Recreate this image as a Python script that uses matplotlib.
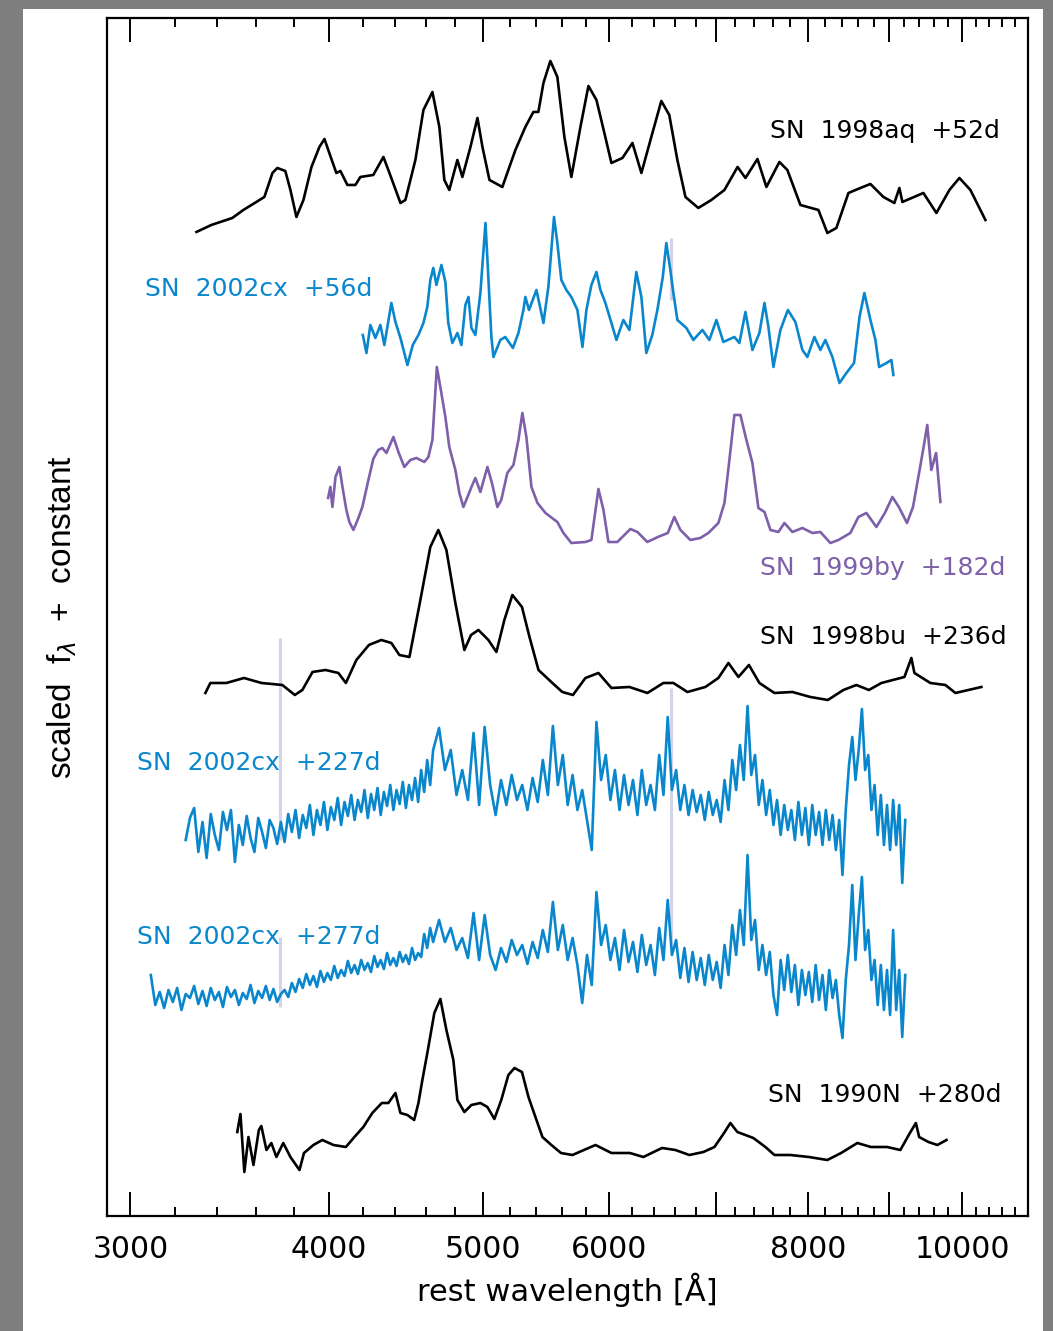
import matplotlib
matplotlib.use("Agg")
import matplotlib.pyplot as plt
from matplotlib.patches import Rectangle
from matplotlib.ticker import FixedLocator, FixedFormatter, NullFormatter

# ---- spectra (rest wavelength in A, scaled flux) ----

wave_98aq = [3301, 3373, 3477, 3533, 3600, 3642, 3685, 3711, 3754, 3782,
             3815, 3854, 3899, 3944, 3973, 4001, 4042, 4066, 4107, 4155,
             4185, 4264, 4327, 4365, 4435, 4467, 4532, 4585, 4645, 4692,
             4726, 4760, 4816, 4851, 4908, 4958, 4994, 5045, 5140, 5238,
             5314, 5376, 5415, 5455, 5510, 5566, 5623, 5680, 5755, 5822,
             5890, 5958, 6019, 6116, 6205, 6286, 6377, 6470, 6545, 6622,
             6700, 6826, 6956, 7089, 7225, 7308, 7436, 7533, 7676, 7765,
             7913, 8122, 8228, 8336, 8483, 8631, 8757, 8923, 9066, 9132,
             9172, 9455, 9635, 9818, 9961, 10121, 10343]
flux_98aq = [0.08, 0.15, 0.22, 0.30, 0.38, 0.43, 0.67, 0.72, 0.69, 0.50,
             0.23, 0.40, 0.73, 0.93, 1.01, 0.87, 0.67, 0.69, 0.55, 0.55,
             0.63, 0.65, 0.83, 0.67, 0.37, 0.40, 0.80, 1.30, 1.48, 1.13,
             0.60, 0.50, 0.80, 0.63, 0.93, 1.22, 0.93, 0.60, 0.53, 0.90,
             1.13, 1.28, 1.28, 1.57, 1.79, 1.63, 1.03, 0.63, 1.13, 1.54,
             1.40, 1.07, 0.77, 0.82, 0.97, 0.67, 1.03, 1.39, 1.25, 0.80,
             0.43, 0.32, 0.40, 0.50, 0.73, 0.62, 0.81, 0.53, 0.78, 0.70,
             0.35, 0.30, 0.07, 0.12, 0.47, 0.52, 0.56, 0.43, 0.37, 0.52,
             0.38, 0.47, 0.27, 0.50, 0.62, 0.50, 0.20]

wave_cx56 = [4200, 4222, 4246, 4277, 4308, 4333, 4377, 4403, 4435, 4480,
             4515, 4552, 4585, 4611, 4631, 4651, 4672, 4706, 4733, 4753,
             4781, 4816, 4844, 4872, 4894, 4915, 4943, 4979, 5016, 5034,
             5059, 5074, 5125, 5162, 5219, 5261, 5299, 5314, 5342, 5400,
             5455, 5494, 5539, 5566, 5598, 5639, 5680, 5730, 5772, 5805,
             5847, 5890, 5924, 5967, 6019, 6063, 6124, 6178, 6240, 6286,
             6331, 6386, 6433, 6484, 6517, 6555, 6584, 6622, 6709, 6777,
             6866, 6936, 7007, 7078, 7192, 7244, 7308, 7382, 7457, 7512,
             7555, 7610, 7687, 7771, 7856, 7936, 7993, 8075, 8145, 8204,
             8288, 8373, 8458, 8552, 8620, 8681, 8757, 8821, 8868, 8963,
             9027, 9053]
flux_cx56 = [0.55, 0.37, 0.65, 0.52, 0.65, 0.45, 0.87, 0.68, 0.52, 0.25,
             0.45, 0.55, 0.67, 0.83, 1.10, 1.22, 1.05, 1.25, 1.08, 0.67,
             0.47, 0.57, 0.45, 0.85, 0.93, 0.62, 0.55, 0.97, 1.67, 1.20,
             0.53, 0.33, 0.50, 0.53, 0.42, 0.57, 0.80, 0.93, 0.80, 1.00,
             0.67, 1.03, 1.73, 1.47, 1.10, 1.00, 0.93, 0.80, 0.43, 0.80,
             1.05, 1.18, 1.00, 0.87, 0.67, 0.50, 0.70, 0.60, 1.18, 0.93,
             0.37, 0.55, 0.80, 1.13, 1.47, 1.20, 0.97, 0.70, 0.62, 0.50,
             0.60, 0.50, 0.70, 0.48, 0.53, 0.47, 0.78, 0.40, 0.57, 0.87,
             0.63, 0.23, 0.60, 0.80, 0.68, 0.40, 0.33, 0.53, 0.40, 0.50,
             0.33, 0.07, 0.17, 0.27, 0.73, 0.97, 0.70, 0.50, 0.23, 0.27,
             0.30, 0.15]

wave_99by = [3994, 4007, 4019, 4037, 4060, 4078, 4101, 4119, 4143, 4173,
             4197, 4234, 4264, 4295, 4320, 4346, 4390, 4422, 4460, 4499,
             4539, 4591, 4618, 4645, 4675, 4702, 4733, 4760, 4802, 4830,
             4858, 4887, 4915, 4943, 4979, 5030, 5063, 5103, 5132, 5177,
             5223, 5261, 5291, 5322, 5361, 5408, 5471, 5566, 5615, 5680,
             5797, 5847, 5907, 5950, 5993, 6071, 6187, 6250, 6340, 6438,
             6531, 6593, 6651, 6748, 6846, 6926, 7027, 7089, 7140, 7192,
             7255, 7318, 7382, 7446, 7512, 7577, 7665, 7732, 7822, 7936,
             8052, 8145, 8264, 8361, 8507, 8606, 8706, 8833, 8942, 9040,
             9125, 9233, 9314, 9396, 9451, 9508, 9564, 9631, 9691]
flux_99by = [0.52, 0.63, 0.43, 0.73, 0.83, 0.63, 0.40, 0.28, 0.20, 0.32,
             0.43, 0.70, 0.91, 1.00, 1.02, 0.97, 1.13, 0.98, 0.83, 0.90,
             0.92, 0.88, 0.93, 1.10, 1.83, 1.60, 1.33, 1.03, 0.80, 0.57,
             0.43, 0.53, 0.63, 0.72, 0.58, 0.83, 0.67, 0.43, 0.50, 0.77,
             0.85, 1.10, 1.37, 1.13, 0.63, 0.47, 0.37, 0.28, 0.17, 0.07,
             0.08, 0.10, 0.61, 0.40, 0.08, 0.08, 0.21, 0.18, 0.08, 0.13,
             0.17, 0.33, 0.20, 0.10, 0.12, 0.17, 0.27, 0.47, 0.90, 1.35,
             1.35, 1.10, 0.87, 0.42, 0.38, 0.20, 0.18, 0.27, 0.18, 0.22,
             0.17, 0.18, 0.07, 0.10, 0.17, 0.33, 0.37, 0.23, 0.37, 0.53,
             0.43, 0.27, 0.43, 0.77, 1.00, 1.25, 0.80, 0.97, 0.48]

wave_98bu = [3344, 3368, 3447, 3536, 3627, 3738, 3806, 3848, 3905, 3979,
             4054, 4098, 4161, 4237, 4314, 4377, 4428, 4493, 4561, 4631,
             4685, 4740, 4802, 4865, 4912, 4965, 5037, 5096, 5155, 5215,
             5288, 5346, 5416, 5526, 5606, 5693, 5797, 5907, 6019, 6178,
             6341, 6489, 6584, 6719, 6896, 7027, 7130, 7234, 7345, 7457,
             7621, 7822, 8028, 8234, 8421, 8581, 8738, 8897, 9199, 9292,
             9333, 9551, 9761, 9904, 10092, 10283]
flux_98bu = [0.07, 0.17, 0.17, 0.22, 0.17, 0.15, 0.05, 0.10, 0.28, 0.30,
             0.27, 0.17, 0.40, 0.55, 0.60, 0.57, 0.45, 0.43, 0.97, 1.53,
             1.70, 1.50, 0.97, 0.50, 0.65, 0.70, 0.60, 0.48, 0.80, 1.05,
             0.93, 0.63, 0.30, 0.17, 0.08, 0.05, 0.22, 0.27, 0.12, 0.13,
             0.07, 0.17, 0.17, 0.08, 0.13, 0.22, 0.37, 0.23, 0.35, 0.17,
             0.07, 0.08, 0.03, 0.00, 0.10, 0.15, 0.10, 0.17, 0.23, 0.42,
             0.27, 0.17, 0.15, 0.07, 0.10, 0.13]

# late-time 2002cx spectra share one wavelength grid (20 A bins blueward of 4650, 40 A redward)
wave_cx_late = [3090, 3110, 3130, 3150, 3170, 3190, 3210, 3230, 3250, 3270,
                3290, 3310, 3330, 3350, 3370, 3390, 3410, 3430, 3450, 3470,
                3490, 3510, 3530, 3550, 3570, 3590, 3610, 3630, 3650, 3670,
                3690, 3710, 3730, 3750, 3770, 3790, 3810, 3830, 3850, 3870,
                3890, 3910, 3930, 3950, 3970, 3990, 4010, 4030, 4050, 4070,
                4090, 4110, 4130, 4150, 4170, 4190, 4210, 4230, 4250, 4270,
                4290, 4310, 4330, 4350, 4370, 4390, 4410, 4430, 4450, 4470,
                4490, 4510, 4530, 4550, 4570, 4590, 4610, 4630, 4650,
                4690, 4730, 4770, 4810, 4850, 4890, 4930, 4970, 5010, 5050,
                5090, 5130, 5170, 5210, 5250, 5290, 5330, 5370, 5410, 5450,
                5490, 5530, 5570, 5610, 5650, 5690, 5730, 5770, 5810, 5850,
                5890, 5930, 5970, 6010, 6050, 6090, 6130, 6170, 6210, 6250,
                6290, 6330, 6370, 6410, 6450, 6490, 6530, 6570, 6610, 6650,
                6690, 6730, 6770, 6810, 6850, 6890, 6930, 6970, 7010, 7050,
                7090, 7130, 7170, 7210, 7250, 7290, 7330, 7370, 7410, 7450,
                7490, 7530, 7570, 7610, 7650, 7690, 7730, 7770, 7810, 7850,
                7890, 7930, 7970, 8010, 8050, 8090, 8130, 8170, 8210, 8250,
                8290, 8330, 8370, 8410, 8450, 8490, 8530, 8570, 8610, 8650,
                8690, 8730, 8770, 8810, 8850, 8890, 8930, 8970, 9010, 9050,
                9090, 9130, 9170, 9210]

# +227d starts at 3250 A (index 8 of the grid)
flux_cx227 = [0.00, 0.22, 0.32, -0.12, 0.18, -0.18, 0.26, 0.05, -0.10, 0.28,
              0.10, 0.30, -0.22, 0.15, -0.05, 0.24, 0.02, -0.12, 0.22, 0.08,
              -0.08, 0.20, 0.12, -0.04, 0.18, -0.02, 0.26, 0.08, 0.30, 0.02,
              0.25, 0.12, 0.35, 0.05, 0.30, 0.15, 0.38, 0.10, 0.33, 0.20,
              0.42, 0.15, 0.38, 0.24, 0.45, 0.20, 0.40, 0.28, 0.50, 0.22,
              0.46, 0.30, 0.52, 0.25, 0.48, 0.34, 0.55, 0.30, 0.50, 0.36,
              0.58, 0.32, 0.55, 0.40, 0.62, 0.38, 0.70, 0.48, 0.80, 0.55,
              0.90,
              1.12, 0.70, 0.90, 0.45,
              0.70, 0.40, 1.07, 0.35, 1.13, 0.55, 0.25, 0.60, 0.35, 0.65,
              0.40, 0.55, 0.30, 0.62, 0.38, 0.80, 0.45, 1.14, 0.55, 0.85,
              0.35, 0.65, 0.30, 0.50, 0.20, -0.10, 1.18, 0.60, 0.85, 0.40,
              0.70, 0.30, 0.65, 0.35, 0.60, 0.25, 0.70, 0.35, 0.55, 0.30,
              0.85, 0.45, 1.23, 0.50, 0.70, 0.30, 0.55, 0.25, 0.50, 0.28,
              0.45, 0.20, 0.48, 0.25, 0.40, 0.18, 0.60, 0.30, 0.80, 0.50,
              0.95, 0.60, 1.34, 0.65, 0.85, 0.35, 0.60, 0.25, 0.50, 0.15,
              0.40, 0.05, 0.35, 0.10, 0.30, 0.00, 0.38, 0.05, 0.32, -0.05,
              0.35, 0.05, 0.28, -0.05, 0.30, 0.00, 0.25, -0.10, 0.20, -0.35,
              0.30, 0.75, 1.03, 0.60, 0.90, 1.31, 0.70, 0.85, 0.30, 0.55,
              0.05, 0.45, -0.05, 0.35, -0.10, 0.40, -0.05, 0.35, -0.43, 0.20]

flux_cx277 = [0.25, -0.05, 0.08, -0.08, 0.10, -0.02, 0.12, -0.10, 0.06, 0.02,
              0.14, -0.04, 0.09, -0.06, 0.12, 0.00, 0.08, -0.07, 0.13, 0.03,
              0.10, -0.05, 0.07, 0.01, 0.15, -0.03, 0.09, 0.02, 0.14, 0.00,
              0.11, -0.02, 0.06, 0.10, 0.03, 0.17, 0.08, 0.21, 0.12, 0.26,
              0.15, 0.24, 0.13, 0.29, 0.18, 0.27, 0.20, 0.34, 0.22, 0.30,
              0.24, 0.39, 0.27, 0.35, 0.26, 0.40, 0.30, 0.37, 0.28, 0.44,
              0.33, 0.40, 0.31, 0.47, 0.35, 0.42, 0.34, 0.48, 0.38, 0.45,
              0.36, 0.52, 0.40, 0.47, 0.43, 0.66, 0.52, 0.72, 0.58,
              0.80, 0.58, 0.72, 0.50, 0.62, 0.42, 0.87, 0.40, 0.85, 0.45,
              0.30, 0.52, 0.38, 0.60, 0.45, 0.55, 0.36, 0.58, 0.42, 0.70,
              0.48, 0.98, 0.50, 0.75, 0.40, 0.62, 0.35, -0.03, 0.45, 0.15,
              1.08, 0.55, 0.75, 0.40, 0.62, 0.30, 0.70, 0.38, 0.58, 0.28,
              0.65, 0.35, 0.55, 0.25, 0.72, 0.40, 1.00, 0.45, 0.60, 0.22,
              0.52, 0.18, 0.48, 0.20, 0.42, 0.15, 0.45, 0.20, 0.38, 0.12,
              0.55, 0.25, 0.75, 0.45, 0.90, 0.55, 1.45, 0.60, 0.80, 0.30,
              0.55, 0.25, 0.48, 0.05, -0.15, 0.40, 0.10, 0.45, 0.08, 0.35,
              -0.05, 0.30, 0.05, 0.28, -0.02, 0.35, 0.00, 0.25, -0.10, 0.30,
              0.02, 0.20, -0.15, -0.38, 0.20, 0.55, 1.15, 0.40, 0.85, 1.23,
              0.50, 0.70, 0.20, 0.40, -0.05, 0.35, -0.10, 0.30, -0.15, 0.70,
              -0.10, 0.30, -0.37, 0.25]

wave_90N = [3502, 3518, 3538, 3559, 3585, 3613, 3626, 3653, 3679, 3706,
            3743, 3782, 3832, 3857, 3910, 3961, 4025, 4098, 4149, 4203,
            4258, 4317, 4358, 4403, 4435, 4480, 4524, 4552, 4578, 4611,
            4658, 4699, 4740, 4788, 4816, 4865, 4915, 4979, 5030, 5081,
            5132, 5185, 5231, 5288, 5338, 5392, 5447, 5518, 5595, 5689,
            5784, 5882, 6019, 6182, 6304, 6476, 6603, 6738, 6876, 6987,
            7085, 7150, 7223, 7392, 7522, 7621, 7799, 8011, 8228, 8393,
            8593, 8763, 8971, 9145, 9272, 9353, 9397, 9524, 9649, 9776]
flux_90N = [0.43, 0.61, 0.03, 0.38, 0.10, 0.45, 0.49, 0.25, 0.32, 0.18,
            0.32, 0.18, 0.05, 0.22, 0.30, 0.35, 0.30, 0.28, 0.38, 0.48,
            0.62, 0.72, 0.72, 0.82, 0.62, 0.60, 0.55, 0.72, 0.95, 1.22,
            1.62, 1.76, 1.45, 1.15, 0.75, 0.63, 0.70, 0.72, 0.68, 0.56,
            0.75, 1.00, 1.07, 1.03, 0.78, 0.58, 0.38, 0.30, 0.22, 0.20,
            0.25, 0.30, 0.22, 0.22, 0.18, 0.27, 0.25, 0.20, 0.23, 0.28,
            0.42, 0.52, 0.43, 0.37, 0.28, 0.20, 0.20, 0.18, 0.15, 0.22,
            0.32, 0.28, 0.28, 0.25, 0.42, 0.52, 0.38, 0.33, 0.30, 0.35]

labels = ["SN  1998aq  +52d", "SN  2002cx  +56d", "SN  1999by  +182d",
          "SN  1998bu  +236d", "SN  2002cx  +227d", "SN  2002cx  +277d",
          "SN  1990N  +280d"]
offsets = [9.76, 8.26, 6.66, 5.16, 3.76, 2.16, 0.41]

# host-galaxy emission ([O II] 3727, H-alpha 6563): (spectrum, wavelength, lo, hi)
host_marks = [(1, 6563, 0.90, 1.52),
              (3, 3727, -0.05, 0.62), (3, 6563, -0.05, 0.12),
              (4, 3727, 0.00, 1.37), (4, 6563, -0.05, 1.50),
              (5, 3727, -0.07, 0.63), (5, 6563, 0.57, 1.55)]

BLACK = "black"
BLUE = "#0a87cc"
PURPLE = "#7d5faa"

spectra = [
    (wave_98aq, flux_98aq, BLACK),
    (wave_cx56, flux_cx56, BLUE),
    (wave_99by, flux_99by, PURPLE),
    (wave_98bu, flux_98bu, BLACK),
    (wave_cx_late[8:], flux_cx227, BLUE),
    (wave_cx_late, flux_cx277, BLUE),
    (wave_90N, flux_90N, BLACK),
]
# label anchor in axes fraction and alignment
label_pos = [(0.970, 0.906, "right"), (0.041, 0.774, "left"),
             (0.976, 0.541, "right"), (0.977, 0.483, "right"),
             (0.033, 0.378, "left"), (0.033, 0.233, "left"),
             (0.971, 0.101, "right")]

plt.rcParams["font.family"] = "DejaVu Sans"
plt.rcParams["mathtext.fontset"] = "dejavusans"

fig = plt.figure(figsize=(10.53, 13.31), dpi=100, facecolor="#7f7f7f")
fig.add_artist(Rectangle((0.0218, 0.0), 0.9687, 0.9932, transform=fig.transFigure,
                         facecolor="white", edgecolor="none", zorder=-10))
ax = fig.add_axes([0.1016, 0.0864, 0.8746, 0.9001])

for k, lam, lo, hi in host_marks:
    ax.vlines(lam, offsets[k] + lo, offsets[k] + hi, color="#d3d3ea", lw=2.2, zorder=1)

for (w, f, c), off, lab, (tx, ty, ha) in zip(spectra, offsets, labels, label_pos):
    ax.plot(w, [v + off for v in f], color=c, lw=1.9, zorder=2,
            solid_joinstyle="round")
    ax.text(tx, ty, lab, color=c, fontsize=18, ha=ha, va="center",
            transform=ax.transAxes)

ax.set_xscale("log")
ax.set_xlim(2900, 11000)
ax.set_ylim(0, 11.98)

majors = [3000, 4000, 5000, 6000, 7000, 8000, 9000, 10000]
ax.xaxis.set_major_locator(FixedLocator(majors))
ax.xaxis.set_major_formatter(FixedFormatter(["3000", "4000", "5000", "6000", "",
                                             "8000", "", "10000"]))
ax.xaxis.set_minor_locator(FixedLocator([m for m in range(3000, 11000, 200)
                                         if m not in majors]))
ax.xaxis.set_minor_formatter(NullFormatter())
ax.tick_params(axis="x", which="both", direction="in", top=True, bottom=True,
               width=1.4, labelsize=21.5, pad=14)
ax.tick_params(axis="x", which="major", length=17)
ax.tick_params(axis="x", which="minor", length=6.5)
ax.set_yticks([])
for s in ax.spines.values():
    s.set_linewidth(1.6)

ax.set_xlabel("rest wavelength [Å]", fontsize=22, labelpad=6)
ax.set_ylabel(r"scaled  f$_{\lambda}$  +  constant", fontsize=24,
              family="Liberation Sans", labelpad=20)

fig.savefig("out.png", dpi=100, facecolor=fig.get_facecolor())
